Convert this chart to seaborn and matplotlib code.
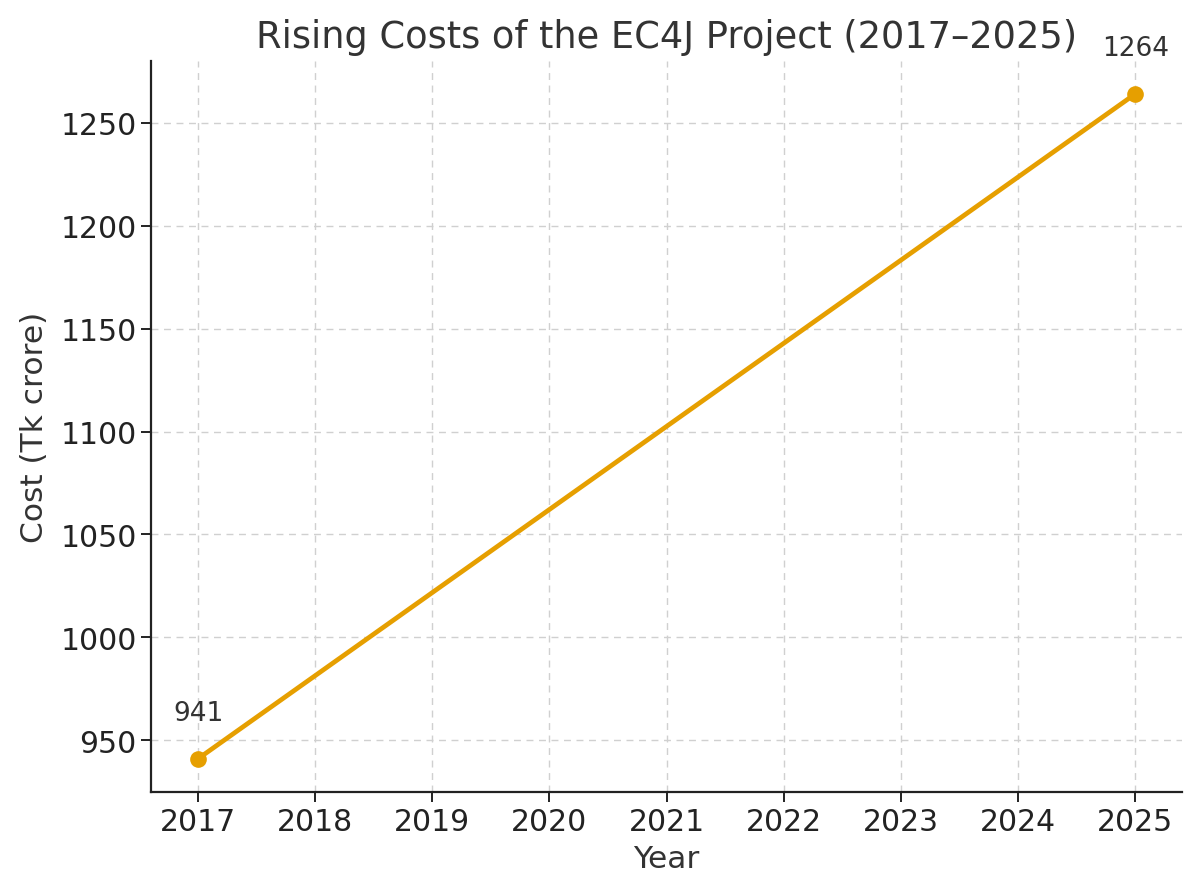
import pandas as pd
import seaborn as sns
import matplotlib.pyplot as plt

# --- Data ---
years = [2017, 2025]
costs = [941, 1264]
tick_years = list(range(2017, 2026))

df = pd.DataFrame({"Year": years, "Cost": costs})

sns.set_style("ticks")
plt.rcParams["font.family"] = ["DejaVu Sans"]

fig, ax = plt.subplots(figsize=(12, 8.95), dpi=100)
fig.subplots_adjust(left=0.126, right=0.985, bottom=0.114, top=0.931)

sns.lineplot(data=df, x="Year", y="Cost", marker="o", color="#E69F00",
             linewidth=3.4, markersize=12, markeredgewidth=0, ax=ax)

for x, y in zip(years, costs):
    ax.annotate(f"{y}", (x, y), textcoords="offset points", xytext=(0, 28),
                ha="center", fontsize=19, color="#333333")

ax.set_xticks(tick_years)
ax.grid(True, linestyle="--", color="#d0d0d0", linewidth=1, dashes=(5, 4))
sns.despine(ax=ax)
for s in ["left", "bottom"]:
    ax.spines[s].set_linewidth(1.6)
    ax.spines[s].set_color("#222222")

ax.tick_params(labelsize=21.5, colors="#222222", length=7, width=1.4)
ax.set_title("Rising Costs of the EC4J Project (2017\u20132025)", fontsize=26.5,
             color="#333333", pad=10)
ax.set_xlabel("Year", fontsize=22.5, color="#333333", labelpad=6)
ax.set_ylabel("Cost (Tk crore)", fontsize=22.5, color="#333333", labelpad=8)

plt.savefig("out.png", dpi=100)
